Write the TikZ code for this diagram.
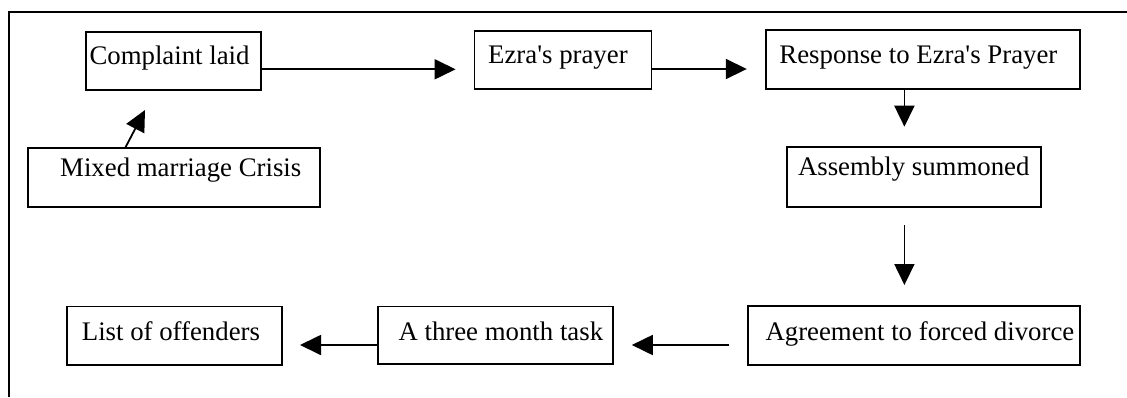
\documentclass[tikz,border=0pt]{standalone}
\usepackage{fontspec}
\setmainfont{Liberation Serif}
\usetikzlibrary{arrows.meta}
\begin{document}
\begin{tikzpicture}[x=1pt,y=-1pt,
  box/.style={draw, line width=1.8pt, inner sep=0pt, outer sep=0pt, anchor=north west},
  lbl/.style={anchor=base west, inner sep=0pt, font=\fontsize{26.8pt}{31pt}\selectfont},
  arr/.style={line width=1.8pt, -{Triangle[length=21pt,width=20pt]}},
  rule/.style={line width=2pt}]
\useasboundingbox (0,0) rectangle (1127,397);

% outer frame (top and left edges)
\coordinate (fa) at (8.7,397);
\coordinate (fb) at (8.7,12);
\coordinate (fc) at (1127,12);
\draw[rule] (fa) -- (fb) -- (fc);

% boxes
\node[box, minimum width=175.3pt, minimum height=58pt]   (cl) at (85.7,31.7)  {};
\node[box, minimum width=292.3pt, minimum height=58.7pt] (mx) at (27.7,148.3) {};
\node[box, minimum width=177pt,   minimum height=58.6pt] (ez) at (474.5,30.7) {};
\node[box, minimum width=314pt,   minimum height=58.7pt] (rs) at (766.2,30)   {};
\node[box, minimum width=254.1pt, minimum height=60.3pt] (as) at (787.1,146.7) {};
\node[box, minimum width=332.4pt, minimum height=59pt]   (ag) at (747.7,306)  {};
\node[box, minimum width=235pt,   minimum height=57.5pt] (tm) at (378.3,306.5) {};
\node[box, minimum width=215pt,   minimum height=58.5pt] (lo) at (66.7,306.5) {};

% box texts
\node[lbl] (cl-t) at (89.3,64)    {Complaint laid};
\node[lbl] (mx-t) at (60,176.7)   {Mixed marriage Crisis};
\node[lbl] (ez-t) at (488,63.3)   {Ezra\textquotesingle s prayer};
\node[lbl] (rs-t) at (779.2,63)   {Response to Ezra\textquotesingle s Prayer};
\node[lbl] (as-t) at (797.8,175)  {Assembly summoned};
\node[lbl] (ag-t) at (765.3,340)  {Agreement to forced divorce};
\node[lbl] (tm-t) at (398.3,340)  {A three month task};
\node[lbl] (lo-t) at (81.7,340)   {List of offenders};

% arrow ends
\coordinate (t1) at (455.6,69.3);
\coordinate (t2) at (746.8,69);
\coordinate (t3) at (904.4,126.7);
\coordinate (t4) at (904.4,285);
\coordinate (t5) at (631.8,345);
\coordinate (t6) at (300,345);
\coordinate (s7) at (125,0);
\coordinate (t7) at (145,110);

% connectors
\draw[arr] (cl.east |- t1) -- (t1);
\draw[arr] (ez.east |- t2) -- (t2);
\draw[arr] (rs.south -| t3) -- (t3);
\draw[arr, shorten <=18pt] (as.south -| t4) -- (t4);
\draw[arr, shorten <=18.5pt] (ag.west |- t5) -- (t5);
\draw[arr] (tm.west |- t6) -- (t6);
\draw[arr] (mx.north -| s7) -- (t7);
\end{tikzpicture}
\end{document}
